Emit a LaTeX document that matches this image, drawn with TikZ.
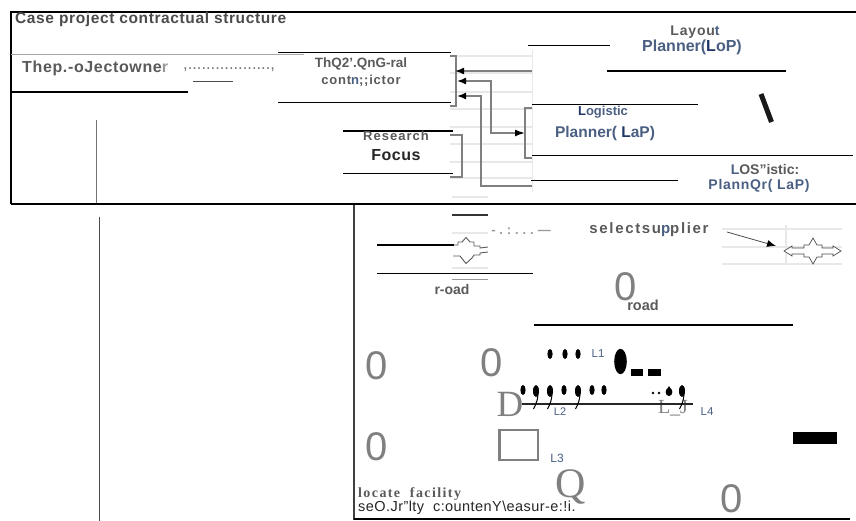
\documentclass[tikz,border=0pt]{standalone}
\usepackage{fontspec}
\setmainfont{Liberation Sans}
\newfontfamily\serifx{Liberation Serif}
\usetikzlibrary{arrows.meta}
\definecolor{txt}{HTML}{5A5A5A}
\definecolor{blu}{HTML}{4A5F82}
\definecolor{navy}{HTML}{1F3566}
\definecolor{faint}{HTML}{E8E8E8}
\definecolor{conn}{HTML}{808080}
\newcommand{\fs}[1]{\fontsize{#1}{#1}\selectfont}
\tikzset{
 lab/.style={inner sep=0pt,text=txt,font=\fs{11.5}\bfseries},
 bluelab/.style={inner sep=0pt,text=blu,font=\fs{15.5}\bfseries},
 small/.style={inner sep=0pt,text=blu,font=\fs{11.5}},
 bigo/.style={inner sep=0pt,text=conn,font=\fs{40}},
 bigs/.style={inner sep=0pt,text=conn,font=\serifx\fs{37}},
 rule/.style={black,line width=0.9pt},
 heavy/.style={black,line width=2pt},
 frame/.style={black,line width=1.6pt},
 grid/.style={faint,line width=1.1pt},
 connx/.style={conn,line width=1.5pt},
 tipx/.style={-{Latex[length=9pt,width=7pt,black]}},
 blob/.style={fill=black,draw=none},
 crossx/.style={draw=black!70,line width=0.7pt,fill=white},
}
\begin{document}
\begin{tikzpicture}[x=1pt,y=-1pt]
\useasboundingbox (0,0) rectangle (856,521);
\fill[white] (0,0) rectangle (856,521);
% light grids
\foreach \y in {56,73,92,109,127,144,162,178} \draw[grid] (450,\y) -- (532,\y);
\draw[grid,line width=0.8pt] (532,50) -- (532,192);
\draw[grid] (452,197) -- (488,197);
\foreach \y in {229,247,264} \draw[grid] (722,\y) -- (842,\y);
\draw[grid] (786,225) -- (786,264);
\draw[grid] (452,233) -- (488,233);
\draw[grid] (452,268) -- (488,268);
% frames
\draw[frame] (856,12) -- (11,12) -- (11,204);
\draw[black,line width=2pt] (11,204) -- (856,204);
\draw[black!75,line width=1.5pt] (354,205) -- (354,520);
\draw[black,line width=1.6pt] (354,519) -- (850,519);
\draw[black!55,line width=0.9pt] (96,120) -- (96,203);
\draw[black!70,line width=1pt] (99,217) -- (99,521);
\draw[black!35,line width=1pt] (11,55) -- (304,55);
% rules
\draw[rule] (278,52) -- (451,52);
\draw[rule] (278,102) -- (451,102);
\draw[heavy] (11,92.5) -- (188,92.5);
\draw[black!70,line width=0.9pt] (193,81) -- (233,81);
\draw[heavy] (343,131) -- (453,131);
\draw[rule] (343,173) -- (453,173);
\draw[rule] (528,45) -- (610,45);
\draw[black,line width=2.4pt] (607,71) -- (786,71);
\draw[rule] (532,104) -- (698,104);
\draw[rule] (532,155) -- (853,155);
\draw[rule] (531,180) -- (678,180);
\draw[black!90,line width=5pt] (761,94) -- (771.5,122);
\draw[black!80,line width=2pt] (452,215) -- (488,215);
\draw[heavy] (377,245) -- (454,245);
\draw[rule] (377,273) -- (533,273);
\draw[black!40,line width=1pt] (452,279) -- (488,279);
\draw[black,line width=2.4pt] (534,325) -- (793,325);
% brackets
\coordinate (bl1) at (450,56); \coordinate (bl2) at (456,56); \coordinate (bl3) at (456,106); \coordinate (bl4) at (450,106);
\draw[connx] (bl1) -- (bl2) -- (bl3) -- (bl4);
\coordinate (bm1) at (450,135); \coordinate (bm2) at (462,135); \coordinate (bm3) at (462,177); \coordinate (bm4) at (450,177);
\draw[connx] (bm1) -- (bm2) -- (bm3) -- (bm4);
\coordinate (br1) at (532,108); \coordinate (br2) at (525,108); \coordinate (br3) at (525,158); \coordinate (br4) at (532,158);
\draw[connx] (br1) -- (br2) -- (br3) -- (br4);
% arrows
\coordinate (a1s) at (532,71); \coordinate (a1e) at (455,71);
\draw[connx,tipx] (a1s) -- (a1e);
\coordinate (a2s) at (491,81); \coordinate (a2e) at (457,81); \coordinate (a2f) at (491,133); \coordinate (a2g) at (525,133);
\draw[connx,{Latex[length=9pt,width=7pt,black]}-{Latex[length=10pt,width=7pt,black]}] (a2e) -- (a2s) -- (a2f) -- (a2g);
\coordinate (a3s) at (532,186); \coordinate (a3m) at (481,186); \coordinate (a3n) at (481,96); \coordinate (a3e) at (457,96);
\draw[connx,tipx] (a3s) -- (a3m) -- (a3n) -- (a3e);
\coordinate (a4s) at (727,232); \coordinate (a4e) at (776,246);
\draw[black!70,line width=0.8pt,tipx] (a4s) -- (a4e);
% top texts
\node[lab,anchor=west,text=black!70,font=\fs{15.5}\bfseries\addfontfeature{LetterSpace=4}] (title) at (15,19) {Case project contractual structure};
\node[lab,anchor=west,font=\fs{16}\bfseries\addfontfeature{LetterSpace=4}] (owner) at (22,68) {Thep.-oJectowne\textcolor{black!40}{r}};
\node[lab,anchor=west,font=\fs{16.5},text=black!55] (dots) at (183,70) {,..................,};
\node[lab,font=\fs{13.5}\bfseries] (gc1) at (361,64) {ThQ2'.QnG-ral};
\node[lab,font=\fs{13}\bfseries\addfontfeature{LetterSpace=6}] (gc2) at (361,81) {cont\textcolor{blu}{n};;ictor};
\node[lab,text=black!65,font=\fs{13}\bfseries\addfontfeature{LetterSpace=8}] (rf1) at (396,136) {Research};
\node[lab,text=black!85,font=\fs{16}\bfseries\addfontfeature{LetterSpace=3}] (rf2) at (396,155) {Focus};
\node[lab,font=\fs{14}\bfseries\addfontfeature{LetterSpace=6}] (lop1) at (695,32) {Layou\textcolor{blu}{t}};
\node[bluelab,font=\fs{16}\bfseries] (lop2) at (692,47) {Planner(\textcolor{navy}{L}oP)};
\node[bluelab,font=\fs{13}\bfseries] (lap1) at (603,112) {\textcolor{navy}{L}ogistic};
\node[bluelab] (lap2) at (605,133) {Planner( \textcolor{navy}{L}aP)};
\node[lab,font=\fs{14}\bfseries] (los1) at (765,169) {\textcolor{blu}{L}OS"istic:};
\node[bluelab,font=\fs{14}\bfseries\addfontfeature{LetterSpace=5}] (los2) at (759,186) {PlannQr( LaP)};
% lower texts
\node[lab,text=black!40,font=\fs{13}\bfseries\addfontfeature{LetterSpace=30}] (dash) at (521,231) {-.:...---};
\node[lab,font=\fs{15}\bfseries\addfontfeature{LetterSpace=11}] (sel) at (649,230) {selectsu\textcolor{blu}{p}plier};
\node[lab,font=\fs{14}\bfseries] (road1) at (452,289) {r-oad};
\node[bigo] (o1) at (626,287) {0};
\node[lab,font=\fs{14.5}\bfseries] (road2) at (643,305.5) {road};
\node[bigo] (o2) at (377,366) {0};
\node[bigo] (o3) at (492,363) {0};
\node[bigo] (o4) at (377,447) {0};
\node[bigo] (o5) at (732,499) {0};
\node[bigs] (dd) at (510,404) {D};
\node[bigs,font=\serifx\fs{20}] (lj) at (673,408) {L\_J};
\node[bigs,font=\serifx\fs{42}] (qq) at (571,487) {Q};
\node[small] (l1) at (598,354) {L1};
\node[small,font=\fs{11}] (l2) at (560,412) {L2};
\node[small,font=\fs{12}] (l3) at (557,458) {L3};
\node[small] (l4) at (707,412) {L4};
\node[lab,anchor=west,font=\serifx\fs{14}\bfseries\addfontfeature{LetterSpace=10}] (loc) at (358,494) {locate\ \ facility};
\node[lab,anchor=west,text=black!85,font=\fs{14.5}\addfontfeature{LetterSpace=3}] (sec) at (358,508) {seO.Jr"lty\ \ c:ountenY\textbackslash easur-e:!i.};
\draw[conn,line width=2.5pt] (499.5,430) rectangle (538,460);
% dots
\foreach \x in {550,565,578} \fill[blob] (\x,354) ellipse (2.6pt and 5pt);
\fill[blob] (620.5,361.5) ellipse (6.3pt and 12.7pt);
\fill[blob] (631,369) rectangle (643,376);
\fill[blob] (648,369) rectangle (661,376);
\fill[blob] (793,432) rectangle (837,444);
\draw[black!85,line width=2pt] (522,404) -- (693,404);
\foreach \x in {523,564,592,604} \fill[blob] (\x,390) ellipse (2.6pt and 5pt);
\foreach \x in {536,550,578,682} {
  \fill[blob] (\x,391) ellipse (3pt and 6pt);
  \draw[black,line width=1pt] (\x+2,393) .. controls (\x+2,400) and (\x,404) .. (\x-2.5,409);
}
\fill[blob] (653,393) circle (1.3pt);
\fill[blob] (659,393) circle (1.3pt);
\fill[blob] (669,392) ellipse (3.4pt and 4pt);
\fill[blob] (669,386) -- (666,391) -- (672,391) -- cycle;
% cross shapes
\draw[crossx] (784,251) -- (792,246) -- (792,248) -- (804,248) -- (804,245) -- (809,245) -- (813,238) -- (817,245) -- (822,245) -- (822,248) -- (833,248) -- (833,246) -- (841,251) -- (833,256) -- (833,254) -- (822,254) -- (822,257) -- (817,257) -- (813,264) -- (809,257) -- (804,257) -- (804,254) -- (792,254) -- (792,256) -- cycle;
\draw[black!65,line width=0.9pt] (454,245) -- (458,245) -- (458,242) -- (462,242) -- (466,237.5) -- (470,242) -- (474,242) -- (474,246) -- (480,246) -- (480,248) -- (488,247);
\draw[black!65,line width=0.9pt] (453,256) -- (460,256) -- (466,263.5) -- (472,258) -- (474,255) -- (480,255) -- (480,253) -- (488,252);
\end{tikzpicture}
\end{document}
